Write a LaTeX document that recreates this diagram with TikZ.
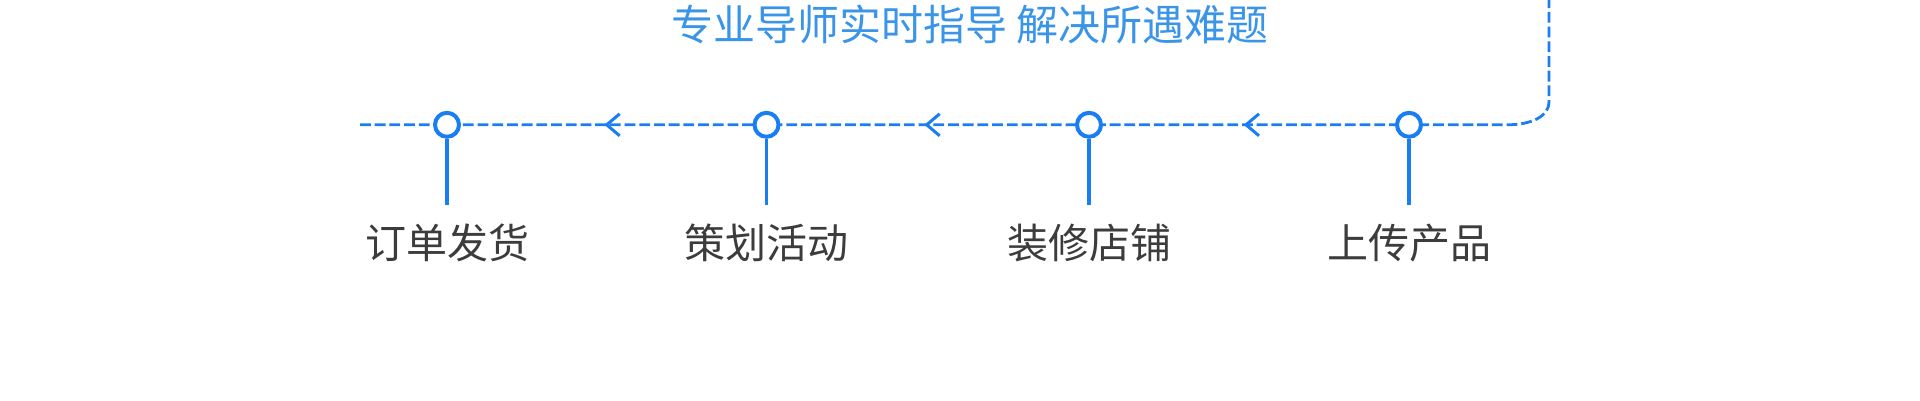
\documentclass[tikz,border=0pt]{standalone}
\usepackage{fontspec}
\newfontfamily\cjk{Noto Sans CJK SC}
\definecolor{lineblue}{HTML}{1A7EF3}
\definecolor{textblue}{HTML}{3A95E8}
\definecolor{labelgray}{HTML}{3C3C3C}
\begin{document}
\begin{tikzpicture}[x=1pt,y=-1pt,
  flow/.style={draw=lineblue, line width=2.8pt, dash pattern=on 10.8pt off 3.9pt},
  stepdot/.style={circle, draw=lineblue, fill=white, line width=4pt, minimum size=24pt, inner sep=0pt},
  stem/.style={draw=lineblue, line width=3.2pt},
  chev/.style={draw=lineblue, line width=3pt},
  steplabel/.style={anchor=base, inner sep=0pt, text=labelgray, font=\cjk\fontsize{41}{48}\selectfont},
  toptext/.style={anchor=base, inner sep=0pt, text=textblue, font=\cjk\fontsize{42}{50}\selectfont}
]
\useasboundingbox (0,0) rectangle (1920,400);
% flow line
\coordinate (start) at (360,124.8);
\coordinate (bendL) at (1507,124.8);
\coordinate (bendT) at (1549,102);
\coordinate (top) at (1549,0);
\draw[flow] (start) -- (bendL) .. controls (1532,124.8) and (1549,116) .. (bendT) -- (top);
% chevrons
\coordinate (m1) at (606.7,124.8);
\coordinate (m2) at (926.7,124.8);
\coordinate (m3) at (1246,124.8);
\foreach \m in {m1,m2,m3}{
  \draw[chev] (\m) ++(13,-11) -- (\m) -- ++(13,11);
}
% steps
\node[stepdot] (d1) at (447,124.8) {};
\node[stepdot] (d2) at (766.5,124.8) {};
\node[stepdot] (d3) at (1089,124.8) {};
\node[stepdot] (d4) at (1409,124.8) {};
\coordinate (s1) at (447,204.5);
\coordinate (s2) at (766.5,204.5);
\coordinate (s3) at (1089,204.5);
\coordinate (s4) at (1409,204.5);
\draw[stem] (d1.south) -- (s1);
\draw[stem] (d2.south) -- (s2);
\draw[stem] (d3.south) -- (s3);
\draw[stem] (d4.south) -- (s4);
\node[steplabel] (l1) at (447,258) {订单发货};
\node[steplabel] (l2) at (766.5,258) {策划活动};
\node[steplabel] (l3) at (1089,258) {装修店铺};
\node[steplabel] (l4) at (1409,258) {上传产品};
\node[toptext] (t) at (970,40.5) {专业导师实时指导 解决所遇难题};
\end{tikzpicture}
\end{document}
